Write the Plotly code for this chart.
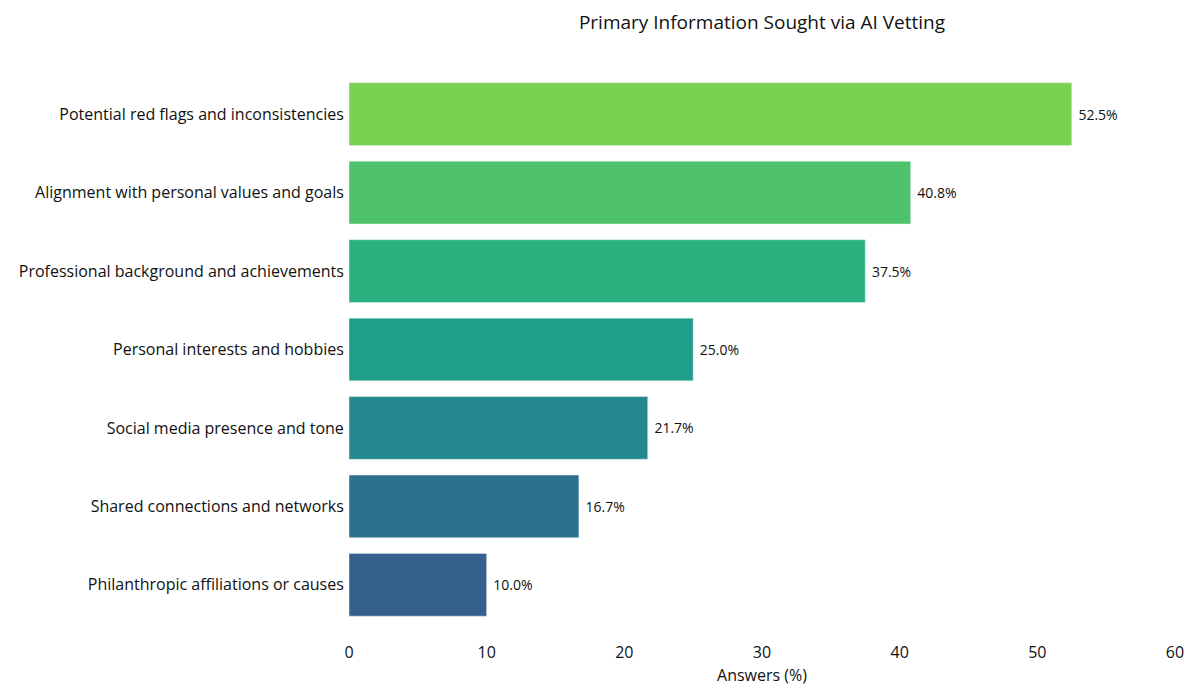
import plotly.graph_objects as go

categories = [
    "Potential red flags and inconsistencies",
    "Alignment with personal values and goals",
    "Professional background and achievements",
    "Personal interests and hobbies",
    "Social media presence and tone",
    "Shared connections and networks",
    "Philanthropic affiliations or causes",
]
answers = [52.5, 40.8, 37.5, 25.0, 21.7, 16.7, 10.0]
bar_colors = ["#7AD151", "#4EC36B", "#2BB07F", "#1F9E89", "#23898E", "#2C728E", "#35608D"]

fig = go.Figure(go.Bar(
    x=answers,
    y=categories,
    orientation="h",
    marker=dict(color=bar_colors),
    width=0.8,
    text=[f" {v:.1f}%" for v in answers],
    textposition="outside",
    textfont=dict(size=14, color="#111111"),
    cliponaxis=False,
))

fig.update_layout(
    title=dict(text="Primary Information Sought via AI Vetting", x=0.5, xref="paper",
               y=0.98, yanchor="middle", font=dict(size=19, color="#111111")),
    font=dict(family="Open Sans, Roboto, sans-serif", size=16, color="#111111"),
    plot_bgcolor="white",
    paper_bgcolor="white",
    width=1200,
    height=700,
    margin=dict(l=341, r=33, t=67, b=84),
    xaxis=dict(title=dict(text="Answers (%)", font=dict(size=16), standoff=7),
               range=[0, 60], dtick=10, showgrid=False, zeroline=False,
               showline=False, ticks="outside", ticklen=14, tickcolor="white",
               tickfont=dict(size=16)),
    yaxis=dict(autorange="reversed", showgrid=False, showline=False, ticks="",
               tickfont=dict(size=16), ticksuffix=" "),
    showlegend=False,
)

fig.write_html("out.html")
